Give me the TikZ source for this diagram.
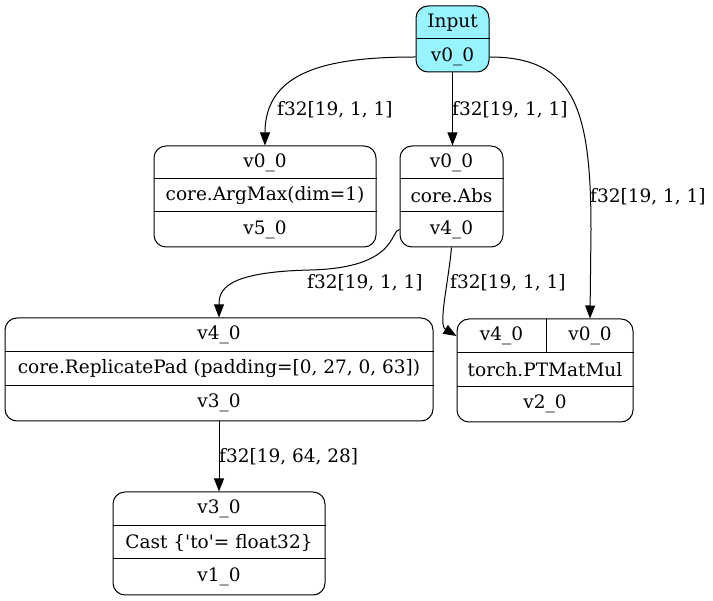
\documentclass[tikz,border=0pt]{standalone}
\usepackage{fontspec}
\setmainfont{DejaVu Serif}[Ligatures=TeXOff]
\usetikzlibrary{arrows.meta,calc}
\definecolor{inputfill}{HTML}{98F5FF}
\begin{document}
\begin{tikzpicture}[x=1pt,y=-1pt,
  box/.style={draw, rounded corners=12pt, line width=1pt, inner sep=0pt},
  txt/.style={inner sep=0pt, font=\fontsize{18.5}{21}\selectfont},
  elbl/.style={inner sep=0pt, anchor=west, font=\fontsize{18.5}{21}\selectfont},
  flow/.style={draw, line width=1pt, -{Triangle[length=13pt,width=10pt]}},
  divider/.style={line width=1pt}]
\useasboundingbox (0,0) rectangle (713,601);

% Input
\node[box, fill=inputfill, minimum width=73pt, minimum height=66pt] (input) at (452.5,39) {};
\draw[divider] (input.west |- 0,39) -- (input.east |- 0,39);
\node[txt] (inT) at (452.5,23) {Input};
\node[txt] (inV) at (452.5,57) {v0\_0};

% ArgMax
\node[box, minimum width=222pt, minimum height=101pt] (argmax) at (265,196.5) {};
\draw[divider] (argmax.west |- 0,179) -- (argmax.east |- 0,179);
\draw[divider] (argmax.west |- 0,212) -- (argmax.east |- 0,212);
\node[txt] (amIn) at (265,162.5) {v0\_0};
\node[txt] (amOp) at (265,195.5) {core.ArgMax(dim=1)};
\node[txt] (amOut) at (265,229.5) {v5\_0};

% Abs
\node[box, minimum width=103pt, minimum height=101pt] (abs) at (451.5,196.5) {};
\draw[divider] (abs.west |- 0,179) -- (abs.east |- 0,179);
\draw[divider] (abs.west |- 0,212) -- (abs.east |- 0,212);
\node[txt] (absIn) at (451.5,162.5) {v0\_0};
\node[txt] (absOp) at (451.5,195.5) {core.Abs};
\node[txt] (absOut) at (451.5,229.5) {v4\_0};

% PTMatMul
\node[box, minimum width=176pt, minimum height=103pt] (mm) at (545,370.5) {};
\draw[divider] (mm.west |- 0,353) -- (mm.east |- 0,353);
\draw[divider] (mm.west |- 0,387) -- (mm.east |- 0,387);
\draw[divider] (546,319) -- (546,353);
\node[txt] (mmL) at (501.5,336) {v4\_0};
\node[txt] (mmR) at (590,336) {v0\_0};
\node[txt] (mmOp) at (545,370) {torch.PTMatMul};
\node[txt] (mmOut) at (545,404) {v2\_0};

% ReplicatePad
\node[box, minimum width=428pt, minimum height=103pt] (rp) at (219,369.5) {};
\draw[divider] (rp.west |- 0,352) -- (rp.east |- 0,352);
\draw[divider] (rp.west |- 0,386) -- (rp.east |- 0,386);
\node[txt] (rpIn) at (219,335) {v4\_0};
\node[txt] (rpOp) at (219,369) {core.ReplicatePad (padding=[0, 27, 0, 63])};
\node[txt] (rpOut) at (219,403) {v3\_0};

% Cast
\node[box, minimum width=212pt, minimum height=103pt] (cast) at (219,543.5) {};
\draw[divider] (cast.west |- 0,526) -- (cast.east |- 0,526);
\draw[divider] (cast.west |- 0,559) -- (cast.east |- 0,559);
\node[txt] (castIn) at (219,509) {v3\_0};
\node[txt] (castOp) at (219,542.5) {Cast \{'to'= float32\}};
\node[txt] (castOut) at (219,577) {v1\_0};

% Connectors
\draw[flow] (input.west |- inV) .. controls (330,57) and (265,70) .. (argmax.north);
\draw[flow] (input.south) -- (input.south |- abs.north);
\draw[flow] (input.east |- inV) .. controls (575,57) and (591,110) .. (591,230) -- (mmR |- mm.north);
\draw[flow] (abs.west |- absOut) .. controls (390,230) and (398,268) .. (310,270)
  .. controls (225,272) and (219,290) .. (rp.north);
\draw[flow] (abs.south) .. controls (448,285) and (438,325) .. (mm.west |- mmL);
\draw[flow] (rp.south) -- (cast.north);

% Edge labels
\node[elbl] (e1) at (277,110) {f32[19, 1, 1]};
\node[elbl] (e2) at (452,110) {f32[19, 1, 1]};
\node[elbl] (e3) at (590,197) {f32[19, 1, 1]};
\node[elbl] (e4) at (307,283) {f32[19, 1, 1]};
\node[elbl] (e5) at (450,283) {f32[19, 1, 1]};
\node[elbl] (e6) at (219,457) {f32[19, 64, 28]};
\end{tikzpicture}
\end{document}
